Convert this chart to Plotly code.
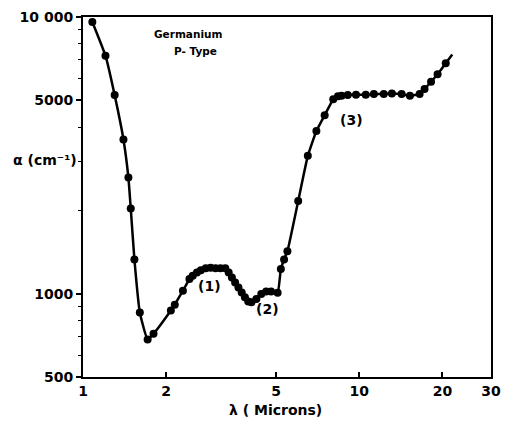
import plotly.graph_objects as go

# Wavelength (microns) and absorption coefficient (cm^-1)
wavelength = [1.081, 1.206, 1.302, 1.401, 1.460, 1.489, 1.535, 1.606, 1.714, 1.800,
              2.080, 2.149, 2.300, 2.429, 2.496, 2.585, 2.671, 2.782, 2.898, 3.019,
              3.145, 3.275, 3.368, 3.460, 3.554, 3.654, 3.754, 3.856, 3.965, 4.073,
              4.243, 4.420, 4.604, 4.796, 5.065, 5.204, 5.346, 5.496, 6.013, 6.515,
              6.998, 7.497, 8.054, 8.376, 8.633, 9.089, 9.734, 10.56, 11.30, 12.27,
              13.13, 14.24, 15.26, 16.55, 17.24, 18.20, 19.22, 20.57]
alpha = [9600, 7250, 5220, 3610, 2630, 2030, 1330, 855, 683, 716,
         869, 913, 1025, 1129, 1160, 1192, 1216, 1236, 1242, 1236,
         1236, 1236, 1192, 1144, 1098, 1053, 1011, 970, 938, 931,
         957, 998, 1019, 1019, 1008, 1229, 1329, 1424, 2163, 3149,
         3871, 4416, 5040, 5167, 5197, 5222, 5239, 5239, 5265, 5265,
         5296, 5265, 5197, 5265, 5488, 5833, 6211, 6802]
# curve continues a little beyond the last measured point
curve_end_x = [21.72]
curve_end_y = [7326]

x_ticks = [1, 2, 5, 10, 20, 30]
x_ticklabels = ["1", "2", "5", "10", "20", "30"]
y_ticks = [500, 1000, 5000, 10000]
y_ticklabels = ["500", "1000", "5000", "10 000"]
y_minor = [600, 700, 800, 900, 2000, 3000, 4000, 6000, 7000, 8000, 9000]

FONT = "DejaVu Sans"

fig = go.Figure()
fig.add_trace(go.Scatter(
    x=wavelength + curve_end_x, y=alpha + curve_end_y, mode="lines",
    line=dict(color="black", width=2.5, shape="spline", smoothing=0.4),
    hoverinfo="skip", showlegend=False))
fig.add_trace(go.Scatter(
    x=wavelength, y=alpha, mode="markers",
    marker=dict(color="black", size=8), showlegend=False))

fig.update_layout(
    width=510, height=422,
    margin=dict(l=83, r=9, t=13, b=45),
    paper_bgcolor="white", plot_bgcolor="white",
    font=dict(family=FONT, color="black"),
    xaxis=dict(type="log", range=[0, 1.4771],
               tickmode="array", tickvals=x_ticks, ticktext=x_ticklabels,
               ticks="inside", ticklen=5, tickwidth=1.5, tickcolor="black",
               showgrid=False, zeroline=False,
               showline=True, linecolor="black", linewidth=2, mirror=True,
               tickfont=dict(family=FONT, size=14, weight="bold")),
    yaxis=dict(type="log", range=[2.69897, 4.0],
               tickmode="array", tickvals=y_ticks, ticktext=y_ticklabels,
               ticks="outside", ticklen=5, tickwidth=1.5, tickcolor="black",
               minor=dict(tickmode="array", tickvals=y_minor, ticks="outside",
                          ticklen=3, tickwidth=1, tickcolor="black", showgrid=False),
               showgrid=False, zeroline=False,
               showline=True, linecolor="black", linewidth=2, mirror=True,
               tickfont=dict(family=FONT, size=14, weight="bold")),
)

ann = [
    dict(text="(1)", x=0.311, y=0.254, size=14),
    dict(text="(2)", x=0.453, y=0.188, size=14),
    dict(text="(3)", x=0.657, y=0.714, size=14),
    dict(text="Germanium", x=0.258, y=0.953, size=10.5),
    dict(text="P- Type", x=0.275, y=0.905, size=10.5),
    dict(text="λ ( Microns)", x=0.471, y=-0.0907, size=14),
]
for a in ann:
    fig.add_annotation(text=a["text"], x=a["x"], y=a["y"], xref="paper", yref="paper",
                       showarrow=False, xanchor="center", yanchor="middle",
                       font=dict(family=FONT, size=a["size"], color="black", weight="bold"))
fig.add_annotation(text="α (cm⁻¹)", x=-0.0096, y=0.602, xref="paper", yref="paper",
                   showarrow=False, xanchor="right", yanchor="middle",
                   font=dict(family=FONT, size=14, color="black", weight="bold"))

fig.write_html("out.html")
